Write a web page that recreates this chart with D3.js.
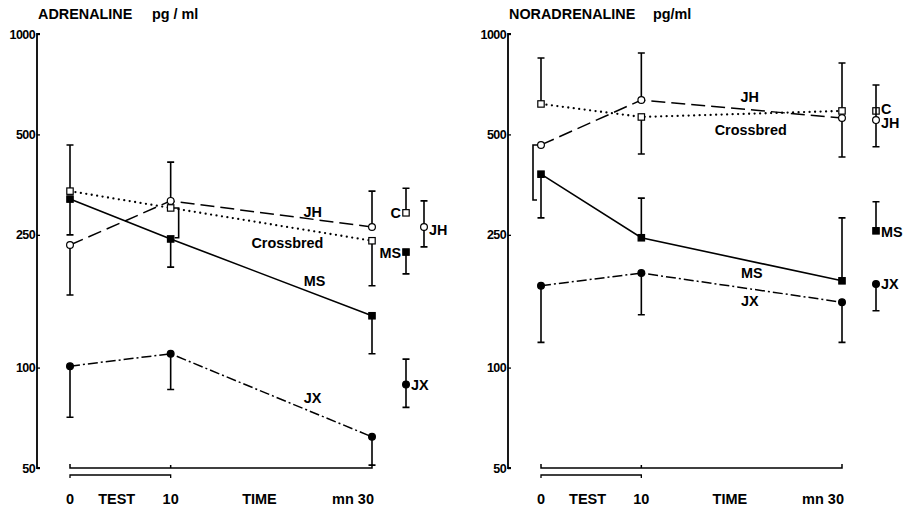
<!DOCTYPE html>
<html><head><meta charset="utf-8">
<script src="https://cdn.jsdelivr.net/npm/d3@7"></script>
<style>
body{margin:0;background:#fff;}
text{font-family:"Liberation Sans",Arial,sans-serif;font-weight:bold;fill:#000;}
</style></head>
<body><svg id="c" width="916" height="509"></svg>
<script>
// ---------- DATA ----------
const timesMin = [0, 10, 30];
const yTicks = [50, 100, 250, 500, 1000];
const seriesNames = ["Crossbred", "JH", "MS", "JX"];

// ADRENALINE (pg/ml)
const adrCrossbred = [338, 301, 240];
const adrJH        = [233, 316, 264];
const adrMS        = [320, 243, 143];
const adrJX        = [101, 110, 62];
// error bar end values (one-sided)
const adrCrossbredErr = [465, 245, 176];
const adrJHErr        = [165, 413, 338];
const adrMSErr        = [250, 200, 110];
const adrJXErr        = [71, 86, 51];
// overall means (side markers)
const sideNames   = ["C", "JH", "MS", "JX"];
const adrSideMean = [291, 264, 222, 89];
const adrSideLow  = [291, 230, 191, 76];
const adrSideHigh = [345, 316, 222, 106];

// NORADRENALINE (pg/ml)
const norCrossbred = [617, 564, 588];
const norJH        = [465, 634, 560];
const norMS        = [380, 245, 182];
const norJX        = [176, 192, 157];
const norCrossbredErr = [847, 437, 819];
const norJHErr        = [318, 877, 428];
const norMSErr        = [281, 322, 281];
const norJXErr        = [119, 144, 119];
const norSideMean = [588, 552, 257, 178];
const norSideLow  = [588, 459, 257, 148];
const norSideHigh = [588, 703, 314, 178];

// ---------- STYLE ----------
const styles = {
  Crossbred: {dash: "0,5.5", cap: "round", width: 2.3, marker: "square", fill: "#fff"},
  JH:        {dash: "14,6", cap: "butt", width: 1.5, marker: "circle", fill: "#fff"},
  MS:        {dash: null, cap: "butt", width: 1.6, marker: "square", fill: "#000"},
  JX:        {dash: "10,3,2,3", cap: "butt", width: 1.5, marker: "circle", fill: "#000"}
};
const sideMarker = {C: "square", JH: "circle", MS: "square", JX: "circle"};
const sideFill   = {C: "#fff", JH: "#fff", MS: "#000", JX: "#000"};

const svg = d3.select("#c");

function drawPanel(cfg) {
  const g = svg.append("g");
  const x = d3.scaleLinear().domain([0, 30]).range(cfg.xRange);
  const y = d3.scaleLog().domain([50, 1000]).range([468, 34]);

  // y axis
  const ax = d3.axisRight(y).tickValues(yTicks).tickSize(3).tickFormat("");
  const axG = g.append("g").attr("transform", `translate(${cfg.axisX},0)`).call(ax);
  axG.select(".domain").attr("stroke", "#000").attr("stroke-width", 1.8).attr("d", `M3,${y(1000)}H0V${y(50)}H3`);
  axG.selectAll(".tick line").attr("stroke", "#000").attr("stroke-width", 1.3);
  g.selectAll(".ytl").data(yTicks).join("text")
    .attr("x", cfg.axisX - 2).attr("y", d => y(d) + 4.5)
    .attr("text-anchor", "end").attr("font-size", 12.5).attr("letter-spacing", -0.6)
    .text(d => d);

  // title
  g.append("text").attr("x", cfg.axisX + 1).attr("y", 19).attr("font-size", 14.4).text(cfg.title);
  g.append("text").attr("x", cfg.unitX).attr("y", 19).attr("font-size", 14.4).text(cfg.unit);

  // bottom brackets
  g.append("path").attr("fill", "none").attr("stroke", "#000").attr("stroke-width", 1.5)
    .attr("d", `M${x(0)},${464}V468H${x(30)}V464M${x(10)},468V465`);
  g.append("path").attr("fill", "none").attr("stroke", "#000").attr("stroke-width", 1.3)
    .attr("d", `M${x(0)},${478}V475H${x(10)}V478`);
  const bl = 504;
  const fs = 14.5;
  g.append("text").attr("x", x(0)).attr("y", bl).attr("text-anchor", "middle").attr("font-size", fs).text("0");
  g.append("text").attr("x", x(10)).attr("y", bl).attr("text-anchor", "middle").attr("font-size", fs).text("10");
  g.append("text").attr("x", x(2.8)).attr("y", bl).attr("font-size", fs).text("TEST");
  g.append("text").attr("x", x(17.1)).attr("y", bl).attr("font-size", fs).text("TIME");
  g.append("text").attr("x", x(30) + 2).attr("y", bl).attr("text-anchor", "end").attr("font-size", fs).text("mn 30");

  // error bars
  cfg.series.forEach(s => {
    s.values.forEach((v, i) => {
      const px = x(timesMin[i]), py = y(v), pe = y(s.err[i]);
      const off = (cfg.errOffset[s.name] || {})[i] || 0;
      let d;
      if (off) {
        d = `M${px},${py}H${px + off}V${pe}H${px + off - 4 * Math.sign(off)}`;
      } else {
        d = `M${px},${py}V${pe}M${px - 3.5},${pe}H${px + 3.5}`;
      }
      g.append("path").attr("d", d).attr("fill", "none").attr("stroke", "#000").attr("stroke-width", 1.6);
    });
  });

  // lines
  cfg.series.forEach(s => {
    const st = styles[s.name];
    const line = d3.line().x((d, i) => x(timesMin[i])).y(d => y(d));
    g.append("path").datum(s.values).attr("d", line).attr("fill", "none")
      .attr("stroke", "#000").attr("stroke-width", st.width)
      .attr("stroke-dasharray", st.dash).attr("stroke-linecap", st.cap);
  });

  // markers
  function marker(sel, type, cx, cy, fill) {
    if (type === "circle") {
      sel.append("circle").attr("cx", cx).attr("cy", cy).attr("r", 3.4)
        .attr("fill", fill).attr("stroke", "#000").attr("stroke-width", 1.2);
    } else {
      sel.append("rect").attr("x", cx - 3.2).attr("y", cy - 3.2).attr("width", 6.4).attr("height", 6.4)
        .attr("fill", fill).attr("stroke", "#000").attr("stroke-width", 1.2);
    }
  }
  cfg.series.forEach(s => {
    const st = styles[s.name];
    s.values.forEach((v, i) => marker(g, st.marker, x(timesMin[i]), y(v), st.fill));
  });

  // series labels
  cfg.labels.forEach(l => {
    g.append("text").attr("x", x(l.t)).attr("y", y(l.v)).attr("text-anchor", "middle")
      .attr("font-size", 14.4).text(l.text);
  });

  // side markers
  sideNames.forEach((n, i) => {
    const cx = x(30) + cfg.sideDx[i];
    const lo = y(cfg.sideLow[i]), hi = y(cfg.sideHigh[i]);
    if (Math.abs(lo - hi) > 0.5) {
      let d = `M${cx},${lo}V${hi}`;
      if (cfg.sideLow[i] < cfg.sideMean[i]) d += `M${cx - 3.5},${lo}H${cx + 3.5}`;
      if (cfg.sideHigh[i] > cfg.sideMean[i]) d += `M${cx - 3.5},${hi}H${cx + 3.5}`;
      g.append("path").attr("d", d).attr("stroke", "#000").attr("stroke-width", 1.6).attr("fill", "none");
    }
    marker(g, sideMarker[n], cx, y(cfg.sideMean[i]), sideFill[n]);
    const left = cfg.sideLabelLeft[i];
    g.append("text").attr("x", left ? cx - 5 : cx + 5).attr("y", y(cfg.sideMean[i]) + cfg.sideLabelDy[i])
      .attr("text-anchor", left ? "end" : "start").attr("font-size", 14.4).text(n);
  });
}

drawPanel({
  title: "ADRENALINE", unit: "pg / ml", unitX: 152, axisX: 37, xRange: [70, 372],
  series: [
    {name: "JX", values: adrJX, err: adrJXErr},
    {name: "MS", values: adrMS, err: adrMSErr},
    {name: "JH", values: adrJH, err: adrJHErr},
    {name: "Crossbred", values: adrCrossbred, err: adrCrossbredErr}
  ],
  errOffset: {Crossbred: {1: 8}},
  labels: [
    {text: "JH", t: 24.1, v: 283},
    {text: "Crossbred", t: 21.6, v: 228},
    {text: "MS", t: 24.3, v: 176},
    {text: "JX", t: 24.1, v: 78.3}
  ],
  sideMean: adrSideMean, sideLow: adrSideLow, sideHigh: adrSideHigh,
  sideDx: [34, 52, 34, 34],
  sideLabelLeft: [true, false, true, false],
  sideLabelDy: [5, 8, 6, 6]
});

drawPanel({
  title: "NORADRENALINE", unit: "pg/ml", unitX: 653, axisX: 508, xRange: [541, 842],
  series: [
    {name: "JX", values: norJX, err: norJXErr},
    {name: "MS", values: norMS, err: norMSErr},
    {name: "JH", values: norJH, err: norJHErr},
    {name: "Crossbred", values: norCrossbred, err: norCrossbredErr}
  ],
  errOffset: {JH: {0: -8}},
  labels: [
    {text: "JH", t: 20.8, v: 625},
    {text: "Crossbred", t: 20.9, v: 498},
    {text: "MS", t: 21.0, v: 185.6},
    {text: "JX", t: 20.8, v: 153}
  ],
  sideMean: norSideMean, sideLow: norSideLow, sideHigh: norSideHigh,
  sideDx: [34, 34, 34, 34],
  sideLabelLeft: [false, false, false, false],
  sideLabelDy: [3, 8, 6, 5]
});
</script></body></html>
